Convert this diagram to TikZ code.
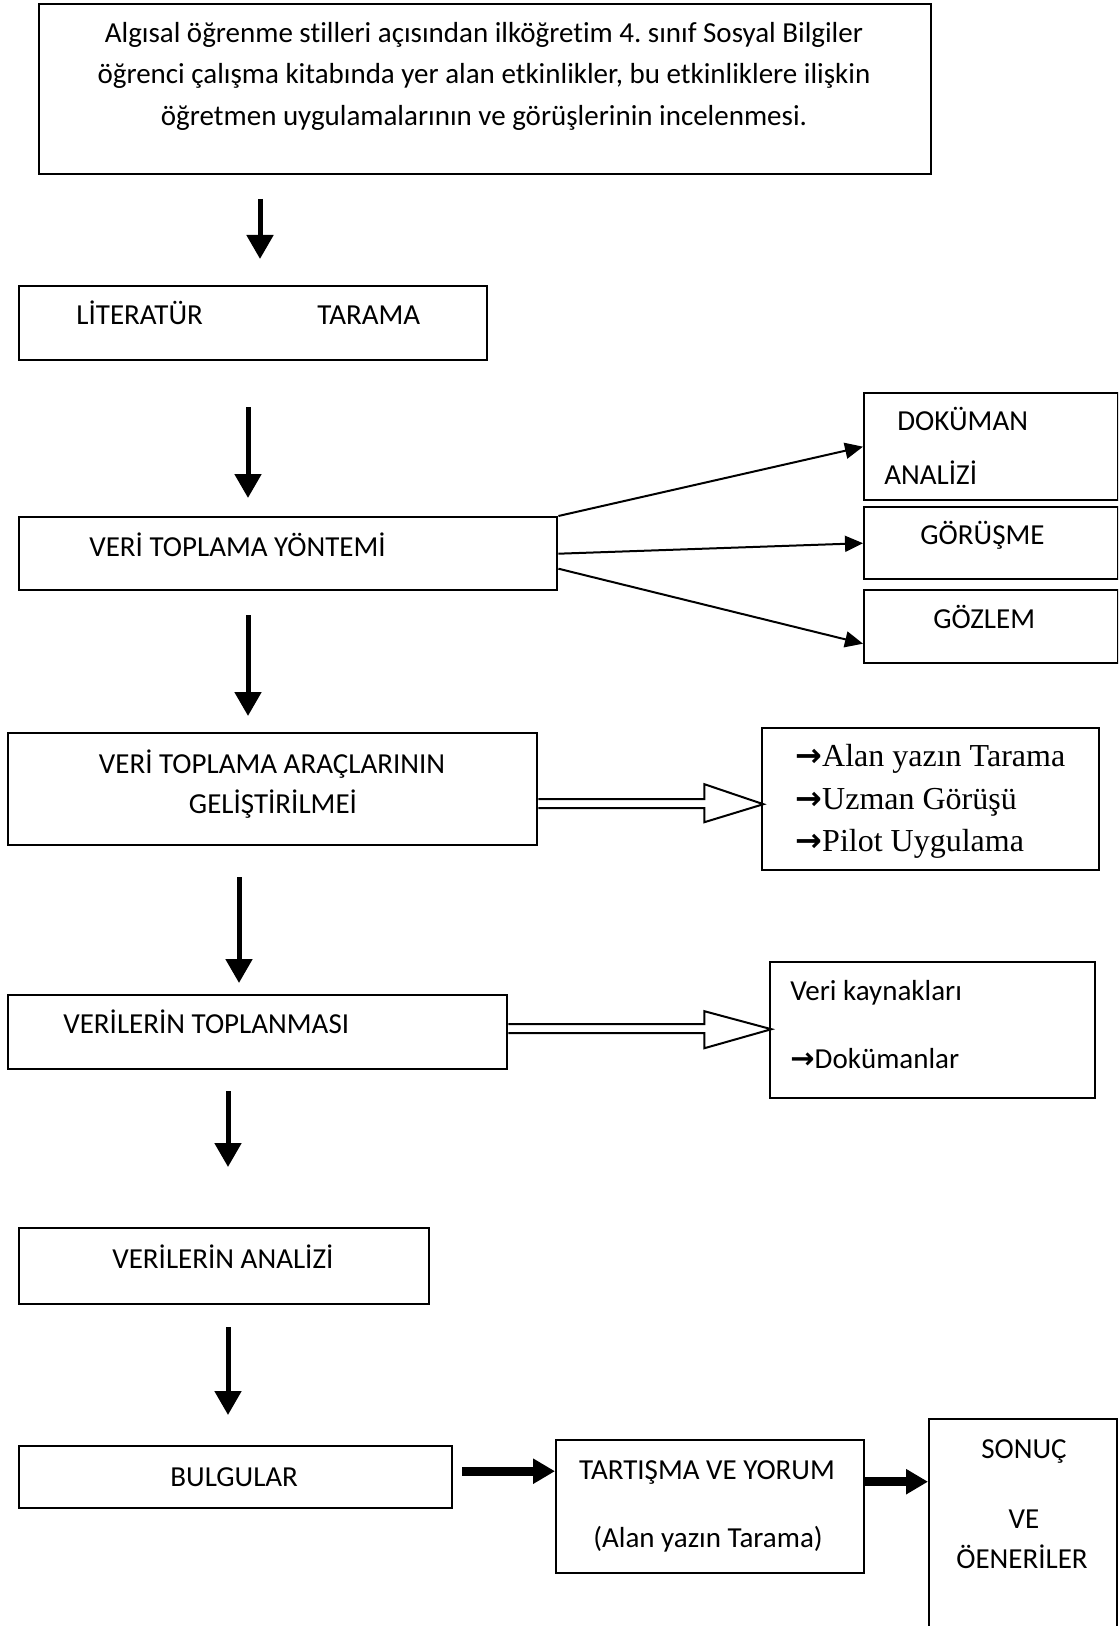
\documentclass[tikz,border=0pt]{standalone}
\usepackage{fontspec}
\setmainfont[Ligatures=NoCommon]{Carlito}
\newfontfamily\tnr{Liberation Serif}
\newfontfamily\arw{DejaVu Sans}
\newcommand{\rarw}{{\arw\bfseries →}}
\usetikzlibrary{arrows.meta,calc}
\frenchspacing
\begin{document}
\begin{tikzpicture}[x=0.5pt,y=-0.5pt,
  box/.style={draw,line width=1.2pt,inner sep=0pt,anchor=north west},
  txt/.style={inner sep=0pt,font=\fontsize{14.5pt}{17pt}\selectfont},
  ser/.style={inner sep=0pt,font=\fontsize{16pt}{19pt}\selectfont\tnr},
  downarrow/.style={line width=2.5pt,-{Triangle[width=13pt,length=12pt]}},
  fan/.style={line width=1pt,-{Triangle[width=8pt,length=9pt]}},
  hollow/.style={line width=1pt,line join=miter},
  bigarrow/.style={line width=4.5pt,-{Triangle[width=12pt,length=11pt]}}]
\clip (0,0) rectangle (1118,1626);
\useasboundingbox (0,0) rectangle (1118,1626);

% boxes
\node[box,minimum width=446pt,minimum height=85pt] (top) at (38,3) {};
\node[box,minimum width=234pt,minimum height=37pt] (lit) at (18,285) {};
\node[box,minimum width=269pt,minimum height=36.5pt] (yon) at (18,516) {};
\node[box,minimum width=127pt,minimum height=53.5pt] (dok) at (863,392) {};
\node[box,minimum width=127pt,minimum height=36pt] (gor) at (863,506) {};
\node[box,minimum width=127pt,minimum height=36.5pt] (goz) at (863,589) {};
\node[box,minimum width=264.5pt,minimum height=56pt] (arac) at (7,732) {};
\node[box,minimum width=168.5pt,minimum height=71pt] (src1) at (761,727) {};
\node[box,minimum width=249.5pt,minimum height=37pt] (topl) at (7,994) {};
\node[box,minimum width=162.5pt,minimum height=68pt] (src2) at (769,961) {};
\node[box,minimum width=205pt,minimum height=38pt] (ana) at (18,1227) {};
\node[box,minimum width=216.5pt,minimum height=31pt] (bul) at (18,1445) {};
\node[box,minimum width=154pt,minimum height=66.5pt] (tar) at (555,1439) {};
\node[box,minimum width=94pt,minimum height=141pt] (son) at (928,1418) {};

% texts
\node[txt,anchor=base] (t1) at (484,43) {Algısal öğrenme stilleri açısından ilköğretim 4. sınıf Sosyal Bilgiler};
\node[txt,anchor=base] (t2) at (484,84) {öğrenci çalışma kitabında yer alan etkinlikler, bu etkinliklere ilişkin};
\node[txt,anchor=base] (t3) at (484,126) {öğretmen uygulamalarının ve görüşlerinin incelenmesi.};
\node[txt,anchor=base west] (lita) at (76,325) {LİTERATÜR};
\node[txt,anchor=base west] (litb) at (317,325) {TARAMA};
\node[txt,anchor=base west] (yont) at (89,556) {VERİ TOPLAMA YÖNTEMİ};
\node[txt,anchor=base west] (doka) at (897,430) {DOKÜMAN};
\node[txt,anchor=base west] (dokb) at (884,484) {ANALİZİ};
\node[txt,anchor=base west] (gort) at (920,544) {GÖRÜŞME};
\node[txt,anchor=base west] (gozt) at (933,628) {GÖZLEM};
\node[txt,anchor=base] (araca) at (272,773) {VERİ TOPLAMA ARAÇLARININ};
\node[txt,anchor=base] (aracb) at (273,813) {GELİŞTİRİLMEİ};
\node[ser,anchor=base west] (s1a) at (795,766) {\rarw Alan yazın Tarama};
\node[ser,anchor=base west] (s1b) at (795,809) {\rarw Uzman Görüşü};
\node[ser,anchor=base west] (s1c) at (795,851) {\rarw Pilot Uygulama};
\node[txt,anchor=base west] (toplt) at (63,1033) {VERİLERİN TOPLANMASI};
\node[txt,anchor=base west] (s2a) at (790,1000) {Veri kaynakları};
\node[txt,anchor=base west] (s2b) at (790,1068) {\rarw Dokümanlar};
\node[txt,anchor=base west] (anat) at (112,1268) {VERİLERİN ANALİZİ};
\node[txt,anchor=base west] (bult) at (170,1486) {BULGULAR};
\node[txt,anchor=base] (tara) at (707,1479) {TARTIŞMA VE YORUM};
\node[txt,anchor=base] (tarb) at (708,1547) {(Alan yazın Tarama)};
\node[txt,anchor=base] (sona) at (1024,1458) {SONUÇ};
\node[txt,anchor=base] (sonb) at (1024,1528) {VE};
\node[txt,anchor=base] (sonc) at (1022,1568) {ÖENERİLER};

% down arrows
\coordinate (a1s) at (260,199); \coordinate (a1e) at (260,259);
\coordinate (a2s) at (248,407); \coordinate (a2e) at (248,498);
\coordinate (a3s) at (248,615); \coordinate (a3e) at (248,716);
\coordinate (a4s) at (239,877); \coordinate (a4e) at (239,983);
\coordinate (a5s) at (228,1091); \coordinate (a5e) at (228,1167);
\coordinate (a6s) at (228,1327); \coordinate (a6e) at (228,1415);
\draw[downarrow] (a1s) -- (a1e);
\draw[downarrow] (a2s) -- (a2e);
\draw[downarrow] (a3s) -- (a3e);
\draw[downarrow] (a4s) -- (a4e);
\draw[downarrow] (a5s) -- (a5e);
\draw[downarrow] (a6s) -- (a6e);

% fan arrows
\draw[fan] (yon.north east) -- (dok.west);
\draw[fan] (yon.east) -- (gor.west);
\draw[fan] ($(yon.east)+(0,15)$) -- ($(goz.west)+(0,17)$);

% hollow arrows
\draw[hollow,shift={(arac.east)}] (0,10) -- (166,10) -- (166,-5) -- (225,15) -- (166,33) -- (166,19) -- (0,19);
\draw[hollow,shift={(topl.east)}] (0,-8) -- (196,-8) -- (196,-21) -- (263,-3) -- (196,16) -- (196,1) -- (0,1);

% thick arrows
\coordinate (b1s) at ($(bul.east)+(9,-6)$);
\draw[bigarrow] (b1s) -- (b1s -| tar.west);
\coordinate (b2s) at ($(tar.east)+(0,-25)$);
\draw[bigarrow] (b2s) -- (b2s -| son.west);
\end{tikzpicture}
\end{document}
